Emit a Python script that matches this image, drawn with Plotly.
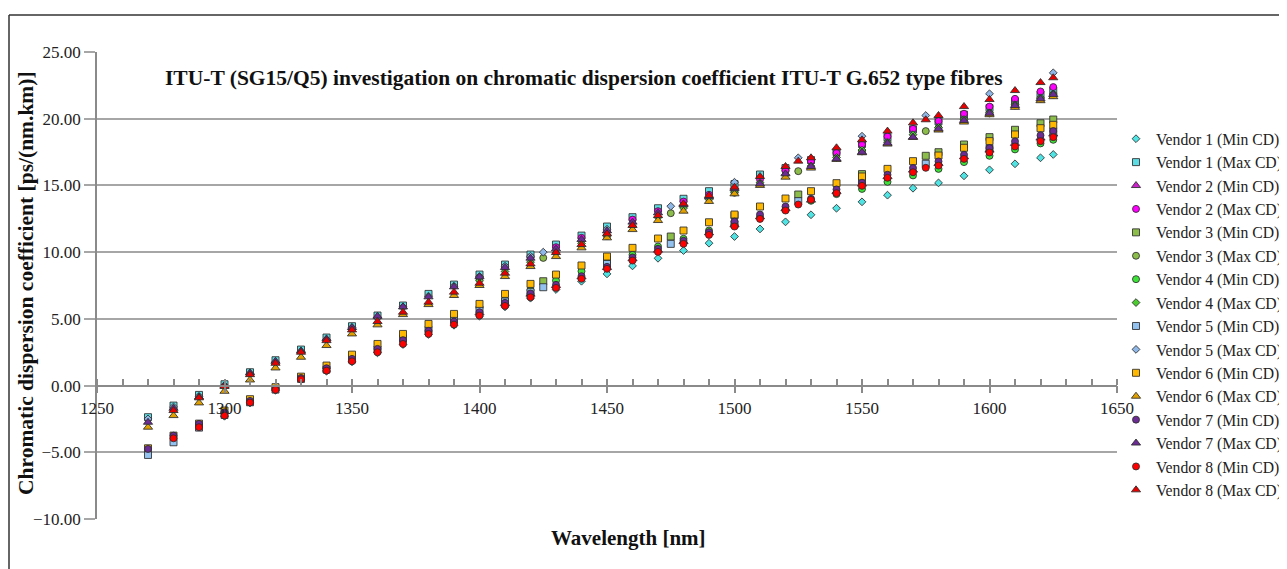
import plotly.graph_objects as go

# ---------------- data ----------------
WL_FULL = [1270, 1280, 1290, 1300, 1310, 1320, 1330, 1340, 1350, 1360, 1370, 1380,
           1390, 1400, 1410, 1420, 1430, 1440, 1450, 1460, 1470, 1480, 1490, 1500,
           1510, 1520, 1530, 1540, 1550, 1560, 1570, 1580, 1590, 1600, 1610, 1620, 1625]
WL_FROM1300 = [1300, 1310, 1320, 1330, 1340, 1350, 1360, 1370, 1380, 1390, 1400, 1410,
               1420, 1430, 1440, 1450, 1460, 1470, 1480, 1490, 1500, 1510, 1520, 1530,
               1540, 1550, 1560, 1570, 1580, 1590, 1600, 1610, 1620, 1625]
WL_FROM1400 = [1400, 1410, 1420, 1430, 1440, 1450, 1460, 1470, 1480, 1490, 1500, 1510,
               1520, 1530, 1540, 1550, 1560, 1570, 1580, 1590, 1600, 1610, 1620, 1625]
WL_V3 = [1425, 1450, 1475, 1500, 1525, 1550, 1575, 1580, 1590, 1600, 1610, 1620, 1625]
WL_V5 = [1270, 1280, 1290, 1300, 1310, 1320, 1330, 1340, 1350, 1360, 1370, 1380, 1390,
         1400, 1410, 1420, 1425, 1450, 1475, 1500, 1525, 1550, 1575, 1600, 1625]
WL_V8 = [1280, 1290, 1300, 1310, 1320, 1330, 1340, 1350, 1360, 1370, 1380, 1390, 1400,
         1410, 1420, 1430, 1440, 1450, 1460, 1470, 1480, 1490, 1500, 1510, 1520, 1525,
         1530, 1540, 1550, 1560, 1570, 1575, 1580, 1590, 1600, 1610, 1620, 1625]

V1_MIN = [-2.30, -1.30, -0.35, 0.42, 1.08, 1.78, 2.45, 3.08, 3.83, 4.52, 5.20, 5.90,
          6.55, 7.20, 7.82, 8.37, 8.97, 9.54, 10.12, 10.67, 11.17, 11.74, 12.27, 12.80,
          13.29, 13.77, 14.27, 14.79, 15.19, 15.72, 16.17, 16.62, 17.07, 17.32]
V1_MAX = [-2.37, -1.50, -0.70, 0.10, 1.00, 1.90, 2.70, 3.60, 4.45, 5.25, 6.00, 6.87,
          7.57, 8.32, 9.07, 9.82, 10.57, 11.24, 11.92, 12.62, 13.29, 14.00, 14.57, 15.10,
          15.82, 16.30, 16.90, 17.50, 18.10, 18.60, 19.20, 19.80, 20.30, 20.80, 21.30, 21.80, 22.10]
V2_MIN = [5.45, 6.15, 6.85, 7.50, 8.15, 8.85, 9.50, 10.15, 10.80, 11.45, 12.05, 12.65,
          13.25, 13.90, 14.55, 15.10, 15.65, 16.15, 16.65, 17.15, 17.65, 18.15, 18.55, 18.85]
V2_MAX = [8.10, 8.87, 9.62, 10.37, 11.07, 11.60, 12.44, 13.07, 13.79, 14.30, 14.70, 15.45,
          16.10, 16.82, 17.44, 18.07, 18.67, 19.24, 19.82, 20.37, 20.91, 21.49, 22.04, 22.37]
V3_MIN = [7.82, 9.45, 11.17, 12.75, 14.32, 15.85, 17.22, 17.49, 18.07, 18.62, 19.17, 19.66, 19.94]
V3_MAX = [9.57, 11.20, 12.92, 14.45, 16.07, 17.55, 19.07, 19.30, 19.90, 20.40, 21.00, 21.50, 21.80]
V4_MIN = [5.85, 6.45, 7.15, 7.87, 8.57, 9.20, 9.80, 10.42, 11.00, 11.62, 12.05, 12.60,
          13.20, 13.85, 14.35, 14.74, 15.27, 15.75, 16.24, 16.75, 17.22, 17.70, 18.15, 18.42]
V4_MAX = [7.85, 8.55, 9.25, 9.95, 10.65, 11.30, 11.95, 12.60, 13.30, 13.95, 14.50, 15.20,
          15.80, 16.45, 17.10, 17.65, 18.25, 18.80, 19.35, 19.95, 20.45, 21.05, 21.55, 21.85]
V5_MIN = [-5.20, -4.25, -3.15, -2.20, -1.25, -0.30, 0.50, 1.20, 1.95, 2.70, 3.50, 4.17, 4.92,
          5.67, 6.30, 7.00, 7.37, 9.12, 10.62, 12.10, 13.82, 15.30, 16.62, 17.75, 19.05]
V5_MAX = [-2.50, -1.60, -0.80, 0.02, 0.90, 1.75, 2.55, 3.45, 4.35, 5.10, 5.90, 6.70, 7.45,
          8.17, 8.95, 9.70, 10.00, 11.72, 13.44, 15.24, 17.07, 18.69, 20.24, 21.87, 23.44]
V6_MIN = [-4.70, -3.75, -2.85, -1.87, -1.02, -0.12, 0.67, 1.50, 2.32, 3.12, 3.87, 4.62,
          5.37, 6.12, 6.87, 7.62, 8.32, 9.00, 9.67, 10.32, 11.02, 11.62, 12.24, 12.82,
          13.42, 14.02, 14.57, 15.17, 15.67, 16.24, 16.82, 17.24, 17.82, 18.32, 18.82, 19.29, 19.54]
V6_MAX = [-3.12, -2.25, -1.30, -0.43, 0.42, 1.32, 2.12, 3.00, 3.87, 4.55, 5.32, 6.07,
          6.75, 7.50, 8.17, 8.92, 9.67, 10.32, 11.07, 11.69, 12.37, 13.07, 13.80, 14.37,
          15.00, 15.62, 16.30, 16.95, 17.45, 18.10, 18.60, 19.15, 19.75, 20.30, 20.85, 21.35, 21.65]
V7_MIN = [-4.75, -3.75, -2.87, -2.00, -1.15, -0.22, 0.57, 1.30, 2.00, 2.75, 3.40, 4.10,
          4.80, 5.50, 6.20, 6.90, 7.55, 8.20, 8.90, 9.60, 10.25, 10.85, 11.50, 12.29,
          12.82, 13.42, 14.00, 14.70, 15.20, 15.80, 16.30, 16.80, 17.30, 17.80, 18.30, 18.75, 19.07]
V7_MAX = [-2.75, -1.70, -0.85, 0.00, 0.95, 1.82, 2.60, 3.50, 4.35, 5.20, 5.90, 6.65,
          7.40, 8.15, 8.85, 9.55, 10.25, 10.95, 11.60, 12.25, 12.95, 13.55, 14.15, 14.75,
          15.12, 15.87, 16.42, 16.99, 17.49, 18.17, 18.62, 19.24, 19.87, 20.41, 20.99, 21.49, 21.82]
V8_MIN = [-3.95, -3.12, -2.25, -1.27, -0.32, 0.47, 1.12, 1.82, 2.50, 3.12, 3.87, 4.57, 5.25,
          5.97, 6.62, 7.32, 8.00, 8.75, 9.37, 10.02, 10.62, 11.29, 11.92, 12.49, 13.12, 13.57,
          13.92, 14.42, 14.97, 15.57, 15.99, 16.32, 16.49, 16.99, 17.47, 17.92, 18.32, 18.62]
V8_MAX = [-1.87, -0.92, -0.07, 0.82, 1.67, 2.50, 3.37, 4.17, 4.80, 5.50, 6.25, 7.00, 7.67,
          8.42, 9.12, 9.97, 10.57, 11.37, 12.00, 12.74, 13.62, 14.24, 14.87, 15.67, 16.42, 16.82,
          17.07, 17.82, 18.42, 19.07, 19.69, 19.92, 20.24, 20.91, 21.44, 22.11, 22.71, 23.07]

SERIES = [
    ("Vendor 1 (Min CD)", WL_FROM1300, V1_MIN, "diamond", "#4FE3E3", 6),
    ("Vendor 1 (Max CD)", WL_FULL, V1_MAX, "square", "#5EDCE4", 7),
    ("Vendor 2 (Min CD)", WL_FROM1400, V2_MIN, "triangle-up", "#CC22CC", 8),
    ("Vendor 2 (Max CD)", WL_FROM1400, V2_MAX, "circle", "#FF00FF", 7),
    ("Vendor 3 (Min CD)", WL_V3, V3_MIN, "square", "#8CBC4A", 7),
    ("Vendor 3 (Max CD)", WL_V3, V3_MAX, "circle", "#8CBC4A", 7),
    ("Vendor 4 (Min CD)", WL_FROM1400, V4_MIN, "circle", "#3EE33A", 7),
    ("Vendor 4 (Max CD)", WL_FROM1400, V4_MAX, "diamond", "#4ACB2E", 6),
    ("Vendor 5 (Min CD)", WL_V5, V5_MIN, "square", "#93C2F0", 7),
    ("Vendor 5 (Max CD)", WL_V5, V5_MAX, "diamond", "#8FB8E8", 6),
    ("Vendor 6 (Min CD)", WL_FULL, V6_MIN, "square", "#FFB800", 7),
    ("Vendor 6 (Max CD)", WL_FULL, V6_MAX, "triangle-up", "#E0A000", 8),
    ("Vendor 7 (Min CD)", WL_FULL, V7_MIN, "circle", "#6B2C94", 7),
    ("Vendor 7 (Max CD)", WL_FULL, V7_MAX, "triangle-up", "#6B2C94", 8),
    ("Vendor 8 (Min CD)", WL_V8, V8_MIN, "circle", "#FF0000", 7),
    ("Vendor 8 (Max CD)", WL_V8, V8_MAX, "triangle-up", "#E80000", 8),
]

TITLE = "ITU-T (SG15/Q5) investigation on chromatic dispersion coefficient ITU-T G.652 type fibres"
X_TITLE = "Wavelength [nm]"
Y_TITLE = "Chromatic dispersion coefficient [ps/(nm.km)]"
X_TICKS = [1250, 1300, 1350, 1400, 1450, 1500, 1550, 1600, 1650]
Y_TICKS = [-10, -5, 0, 5, 10, 15, 20, 25]

# ---------------- figure ----------------
SERIF = "Liberation Serif, Times New Roman, serif"
OFF = 8                       # page body margin of the html page
W, H = 1287 - OFF, 569 - OFF
# plot area in screen pixels: x 97..1117, y 52..519
ML, MT = 97 - OFF, 52 - OFF
MR = W - (1117 - OFF)
MB = H - (519 - OFF)
PW, PH = W - ML - MR, H - MT - MB
YMIN, YMAX = -10, 25


def sx(px):
    """screen x pixel -> paper fraction"""
    return (px - OFF - ML) / PW


def sy(py):
    """screen y pixel -> paper fraction"""
    return (H - MB - (py - OFF)) / PH


fig = go.Figure()
for name, wl, vals, sym, col, size in SERIES:
    fig.add_trace(go.Scatter(
        x=wl, y=vals, mode="markers", name=name,
        marker=dict(symbol=sym, color=col, size=size,
                    line=dict(color="rgba(45,45,45,0.85)", width=1)),
    ))

# invisible helper trace so the overlay axis (tick marks crossing the axis) is drawn
fig.add_trace(go.Scatter(x=[1250], y=[0], xaxis="x2", mode="markers",
                         marker=dict(opacity=0), showlegend=False, hoverinfo="skip"))

axis_pos = (0 - YMIN) / (YMAX - YMIN)
grid_col = "#a6a6a6"
axis_col = "#8a8a8a"

fig.update_layout(
    width=W, height=H,
    margin=dict(l=ML, r=MR, t=MT, b=MB, autoexpand=False),
    paper_bgcolor="white", plot_bgcolor="white",
    font=dict(family=SERIF, size=17, color="#222"),
    showlegend=True,
    legend=dict(x=sx(1116), y=sy(122), xanchor="left", yanchor="top",
                font=dict(family=SERIF, size=15.7, color="#222"),
                bgcolor="rgba(0,0,0,0)", itemwidth=30, tracegroupgap=0),
    xaxis=dict(range=[1250, 1650], anchor="free", position=axis_pos,
               tickvals=X_TICKS, ticktext=[str(v) for v in X_TICKS],
               ticks="outside", ticklen=7, tickcolor=axis_col, tickwidth=1.5,
               showline=True, linecolor=axis_col, linewidth=1.5,
               showgrid=False, zeroline=False,
               minor=dict(ticks="inside", dtick=10, ticklen=6, tickcolor=axis_col, tickwidth=1.5),
               tickfont=dict(family=SERIF, size=17, color="#222")),
    xaxis2=dict(range=[1250, 1650], overlaying="x", anchor="free", position=axis_pos,
                tickvals=X_TICKS, showticklabels=False,
                ticks="inside", ticklen=6, tickcolor=axis_col, tickwidth=1.5,
                showline=False, showgrid=False, zeroline=False),
    yaxis=dict(range=[YMIN, YMAX], tickvals=Y_TICKS,
               ticktext=[("\u2212" if v < 0 else "") + f"{abs(v):.2f}" for v in Y_TICKS],
               ticks="outside", ticklen=11, tickcolor=grid_col, tickwidth=1.5,
               showline=True, linecolor=axis_col, linewidth=1.5,
               showgrid=True, gridcolor=grid_col, gridwidth=1.5, zeroline=False,
               tickfont=dict(family=SERIF, size=17, color="#222")),
    annotations=[
        dict(text="<b>" + TITLE + "</b>", xref="paper", yref="paper",
             x=sx(584), y=sy(78), xanchor="center", yanchor="middle",
             showarrow=False, font=dict(family=SERIF, size=21.5, color="#111")),
        dict(text="<b>" + X_TITLE + "</b>", xref="paper", yref="paper",
             x=sx(628), y=sy(538), xanchor="center", yanchor="middle",
             showarrow=False, font=dict(family=SERIF, size=21, color="#111")),
        dict(text="<b>" + Y_TITLE + "</b>", xref="paper", yref="paper", textangle=-90,
             x=sx(26), y=sy(283), xanchor="center", yanchor="middle",
             showarrow=False, font=dict(family=SERIF, size=21.5, color="#111")),
    ],
    shapes=[
        dict(type="line", xref="paper", yref="paper",
             x0=sx(9), x1=sx(9), y0=sy(15), y1=sy(575),
             line=dict(color="#333", width=1.5)),
        dict(type="line", xref="paper", yref="paper",
             x0=sx(9), x1=sx(1295), y0=sy(15), y1=sy(15),
             line=dict(color="#333", width=1.5)),
    ],
)

fig.write_html("out.html")
